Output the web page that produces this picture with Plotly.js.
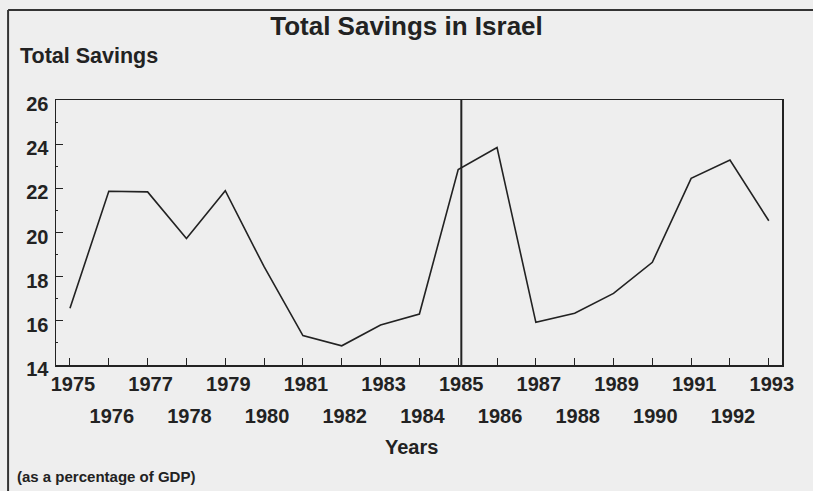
<!DOCTYPE html>
<html>
<head>
<meta charset="utf-8">
<script src="https://cdn.plot.ly/plotly-3.0.1.min.js"></script>
<style>
html,body{margin:0;padding:0;background:#eeeeee;}
#chart{width:813px;height:491px;}
</style>
</head>
<body>
<div id="chart"></div>
<script>
const years = [1975,1976,1977,1978,1979,1980,1981,1982,1983,1984,1985,1986,1987,1988,1989,1990,1991,1992,1993];
const savings = [16.57,21.87,21.84,19.73,21.89,18.45,15.33,14.87,15.81,16.31,22.85,23.85,15.93,16.34,17.24,18.65,22.45,23.28,20.53];
const oddYears = [1975,1977,1979,1981,1983,1985,1987,1989,1991,1993];
const evenYears = [1976,1978,1980,1982,1984,1986,1988,1990,1992];
const breakYear = 1985.08;
const yTicks = [14,16,18,20,22,24,26];
const yMinor = [15,17,19,21,23,25];

const F = "Liberation Sans, Arial, sans-serif";
const ink = "#222222";

const trace = {
  x: years, y: savings, type: "scatter", mode: "lines",
  line: {color: ink, width: 1.6}, xaxis: "x", yaxis: "y",
  hoverinfo: "x+y", showlegend: false
};
// invisible trace to activate xaxis2 for the second row of labels
const trace2 = {
  x: evenYears, y: evenYears.map(() => null), type: "scatter", mode: "lines",
  xaxis: "x2", yaxis: "y", showlegend: false, hoverinfo: "skip"
};

const xr = [1974.64, 1993.34];
const layout = {
  width: 813, height: 491,
  margin: {l: 56, r: 31, t: 100, b: 126},
  paper_bgcolor: "#eeeeee", plot_bgcolor: "#eeeeee",
  font: {family: F, color: ink},
  title: {text: "<b>Total Savings in Israel</b>", x: 0.5, xanchor: "center", xref: "container",
          y: 0.948, yref: "container", yanchor: "middle",
          font: {size: 26, family: F, color: ink}},
  xaxis: {
    range: xr, tickvals: years,
    ticktext: years.map(y => (y % 2 === 1 ? "<b>" + y + "</b>" : "")),
    ticks: "inside", ticklen: 7, tickwidth: 1, tickcolor: ink,
    showline: true, mirror: true, linecolor: ink, linewidth: 1.5,
    showgrid: false, zeroline: false, ticklabelshift: 3,
    tickfont: {size: 20, family: F, color: ink}
  },
  xaxis2: {
    range: xr, overlaying: "x", anchor: "y", side: "bottom",
    tickvals: evenYears, ticktext: evenYears.map(y => "<b>" + y + "</b>"),
    ticks: "", showline: false, showgrid: false, zeroline: false,
    ticklabelstandoff: 37, ticklabelshift: 3,
    tickfont: {size: 20, family: F, color: ink}
  },
  yaxis: {
    range: [14, 26], tickvals: yTicks, ticktext: yTicks.map(v => "<b>" + v + "</b>"),
    ticks: "inside", ticklen: 7, tickwidth: 1, tickcolor: ink,
    minor: {tickvals: yMinor, ticks: "inside", ticklen: 2, tickcolor: ink},
    showline: true, mirror: true, linecolor: ink, linewidth: 1.5,
    showgrid: false, zeroline: false, ticklabelshift: 4, ticklabelstandoff: 2,
    tickfont: {size: 20, family: F, color: ink}
  },
  shapes: [
    {type: "line", xref: "x", yref: "paper", x0: breakYear, x1: breakYear, y0: 0, y1: 1,
     line: {color: ink, width: 2}},
    {type: "line", xref: "paper", yref: "paper", x0: -0.066, x1: 1.2, y0: 1.34, y1: 1.34,
     line: {color: "#333333", width: 2}},
    {type: "line", xref: "paper", yref: "paper", x0: -0.066, x1: -0.066, y0: 1.34, y1: -0.6,
     line: {color: "#333333", width: 2}}
  ],
  annotations: [
    {text: "<b>Total Savings</b>", xref: "paper", yref: "paper", x: -0.0523, y: 1.165,
     xanchor: "left", yanchor: "middle", showarrow: false, font: {size: 21.5, family: F, color: ink}},
    {text: "<b>Years</b>", xref: "paper", yref: "paper", x: 0.49, y: -0.309,
     xanchor: "center", yanchor: "middle", showarrow: false, font: {size: 20, family: F, color: ink}},
    {text: "<b>(as a percentage of GDP)</b>", xref: "paper", yref: "paper", x: -0.0565, y: -0.419,
     xanchor: "left", yanchor: "middle", showarrow: false, font: {size: 15, family: F, color: ink}}
  ]
};

Plotly.newPlot("chart", [trace, trace2], layout, {displayModeBar: false, staticPlot: true});
</script>
</body>
</html>
